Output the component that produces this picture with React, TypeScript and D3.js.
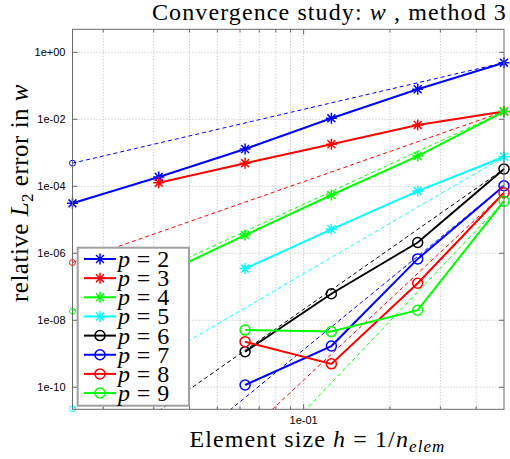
import React from 'react';
import * as d3 from 'd3';

// element sizes h = 1/n_elem
const elementSizes = [1 / 64, 1 / 32, 1 / 16, 1 / 8, 1 / 4, 1 / 2];
const orders = [2, 3, 4, 5, 6, 7, 8, 9];

// relative L2 error in w, one array per polynomial order (null = not computed)
const errP2 = [3.1e-5, 1.9e-4, 1.3e-3, 1.07e-2, 7.9e-2, 0.49];
const errP3 = [null, 1.28e-4, 4.9e-4, 1.8e-3, 6.8e-3, 1.7e-2];
const errP4 = [null, 2.1e-7, 3.5e-6, 5.5e-5, 8.0e-4, 1.7e-2];
const errP5 = [null, null, 3.5e-7, 5.2e-6, 7.2e-5, 7.6e-4];
const errP6 = [null, null, 1.15e-9, 6.2e-8, 2.1e-6, 3.3e-4];
const errP7 = [null, null, 1.17e-10, 1.7e-9, 6.8e-7, 1.04e-4];
const errP8 = [null, null, 2.3e-9, 5.0e-10, 1.27e-7, 6.4e-5];
const errP9 = [null, null, 5.1e-9, 4.6e-9, 2.0e-8, 3.6e-5];
const errors = [errP2, errP3, errP4, errP5, errP6, errP7, errP8, errP9];

// dashed reference lines: value at h = 1/64 (right end = last error value)
const refStart = [4.9e-4, 5.3e-7, 1.86e-8, 2.3e-11, 3.1e-13, 3.0e-15, 5.8e-17, 1.0e-18];

const colors = ['#0000ff', '#ff0000', '#00ff00', '#00ffff', '#000000', '#0000ff', '#ff0000', '#00ff00'];
const markerKinds = ['star', 'star', 'star', 'star', 'circle', 'circle', 'circle', 'circle'];

const yTicks = [1e-10, 1e-8, 1e-6, 1e-4, 1e-2, 1];
const xMajorTicks = [0.1];
const xMinorTicks = [0.02, 0.03, 0.04, 0.05, 0.06, 0.07, 0.08, 0.09, 0.2, 0.3, 0.4];

const width = 510, height = 459;
const margin = { top: 29.3, right: 6, bottom: 49.7, left: 72.5 };
const yDomain = [2.2e-11, 4.86];

const serif = '"Liberation Serif", "Times New Roman", serif';
const sans = '"Liberation Sans", Arial, sans-serif';

const fmtExp = (v: number) => {
  const e = Math.round(Math.log10(v));
  return `1e${e >= 0 ? '+' : '-'}${String(Math.abs(e)).padStart(2, '0')}`;
};

function Marker({ kind, x, y, color, r = 5, sw = 1.5 }: any) {
  if (kind === 'circle') {
    return <circle cx={x} cy={y} r={r} fill="none" stroke={color} strokeWidth={sw} />;
  }
  const d = r * 0.72;
  const p = `M${x - r},${y}L${x + r},${y}M${x},${y - r}L${x},${y + r}M${x - d},${y - d}L${x + d},${y + d}M${x - d},${y + d}L${x + d},${y - d}`;
  return <path d={p} stroke={color} strokeWidth={sw} fill="none" />;
}

export default function App() {
  const x = d3.scaleLog().domain([1 / 64, 1 / 2]).range([margin.left, width - margin.right]);
  const y = d3.scaleLog().domain(yDomain).range([height - margin.bottom, margin.top]);
  const x0 = x.range()[0], x1 = x.range()[1];
  const y0 = y.range()[0], y1 = y.range()[1];

  const line = d3.line<[number, number | null]>()
    .defined(d => d[1] != null)
    .x(d => x(d[0]))
    .y(d => y(d[1] as number));

  const gridColor = '#b8b8b8';
  const axisColor = '#6a6a6a';

  // legend geometry
  const lg = { x: 77.7, y: 247.7, w: 111.3, h: 158, row0: 259, step: 19.15 };

  return (
    <svg width={width} height={height} style={{ position: 'absolute', left: 0, top: 0, background: '#fff' }}>
      <defs>
        <clipPath id="plot-clip">
          <rect x={x0} y={y1} width={x1 - x0} height={y0 - y1} />
        </clipPath>
      </defs>

      {/* grid */}
      <g stroke={gridColor} strokeWidth={1} strokeDasharray="1,2">
        {[...xMinorTicks, ...xMajorTicks].map(t => (
          <line key={'gx' + t} x1={x(t)} x2={x(t)} y1={y1} y2={y0} />
        ))}
        {yTicks.map(t => (
          <line key={'gy' + t} x1={x0} x2={x1} y1={y(t)} y2={y(t)} />
        ))}
      </g>

      {/* reference slopes */}
      <g clipPath="url(#plot-clip)">
        {orders.map((p, i) => {
          const errs = errors[i];
          const pts: [number, number][] = [[elementSizes[0], refStart[i]], [elementSizes[5], errs[5] as number]];
          return (
            <path key={'ref' + p} d={line(pts) as string} fill="none" stroke={colors[i]}
              strokeWidth={1} strokeDasharray="4,3" />
          );
        })}
      </g>
      {orders.map((p, i) => refStart[i] >= yDomain[0] * 0.95 ? (
        <circle key={'refm' + p} cx={x(elementSizes[0])} cy={y(refStart[i])} r={3}
          fill="none" stroke={colors[i]} strokeWidth={1} />
      ) : null)}

      {/* convergence curves */}
      {orders.map((p, i) => {
        const pts = elementSizes.map((h, j) => [h, errors[i][j]] as [number, number | null]);
        return (
          <g key={'s' + p}>
            <path d={line(pts) as string} fill="none" stroke={colors[i]} strokeWidth={2} />
            {pts.filter(d => d[1] != null).map((d, j) => (
              <Marker key={j} kind={markerKinds[i]} x={x(d[0])} y={y(d[1] as number)} color={colors[i]}
                r={markerKinds[i] === 'star' ? 5.5 : 5} />
            ))}
          </g>
        );
      })}

      {/* axes frame and ticks */}
      <rect x={x0} y={y1} width={x1 - x0} height={y0 - y1} fill="none" stroke={axisColor} strokeWidth={1} />
      <g stroke={axisColor} strokeWidth={1}>
        {xMinorTicks.map(t => (
          <g key={'tx' + t}>
            <line x1={x(t)} x2={x(t)} y1={y0} y2={y0 - 3} />
            <line x1={x(t)} x2={x(t)} y1={y1} y2={y1 + 3} />
          </g>
        ))}
        {xMajorTicks.map(t => (
          <g key={'tX' + t}>
            <line x1={x(t)} x2={x(t)} y1={y0} y2={y0 - 5} />
            <line x1={x(t)} x2={x(t)} y1={y1} y2={y1 + 5} />
          </g>
        ))}
        {yTicks.map(t => (
          <g key={'ty' + t}>
            <line x1={x0} x2={x0 + 5} y1={y(t)} y2={y(t)} />
            <line x1={x1} x2={x1 - 5} y1={y(t)} y2={y(t)} />
          </g>
        ))}
      </g>
      <g fontFamily={sans} fontSize={11} fill="#000">
        {yTicks.map(t => (
          <text key={'ly' + t} x={x0 - 7} y={y(t) + 4} textAnchor="end">{fmtExp(t)}</text>
        ))}
        {xMajorTicks.map(t => (
          <text key={'lx' + t} x={x(t)} y={y0 + 15} textAnchor="middle">{fmtExp(t)}</text>
        ))}
      </g>

      {/* labels */}
      <text x={152} y={19.5} fontFamily={serif} fontSize={24} letterSpacing={1.1}>
        Convergence study: <tspan fontStyle="italic">w</tspan> , method 3
      </text>
      <text x={317.5} y={446.5} fontFamily={serif} fontSize={24} letterSpacing={1.1} textAnchor="middle">
        Element size <tspan fontStyle="italic">h</tspan> = 1/<tspan fontStyle="italic">n</tspan>
        <tspan fontStyle="italic" fontSize={17} dy={5}>elem</tspan>
      </text>
      <text transform="translate(28,193) rotate(-90)" fontFamily={serif} fontSize={25} letterSpacing={0.5}
        textAnchor="middle">
        relative <tspan fontStyle="italic">L</tspan><tspan fontSize={17} dy={5}>2</tspan>
        <tspan dy={-5}> error in </tspan><tspan fontStyle="italic">w</tspan>
      </text>

      {/* legend */}
      <rect x={lg.x} y={lg.y} width={lg.w} height={lg.h} fill="#fff" stroke="#a0a0a0" strokeWidth={2} />
      {orders.map((p, i) => {
        const cy = lg.row0 + i * lg.step;
        return (
          <g key={'lg' + p}>
            <line x1={84} x2={116} y1={cy} y2={cy} stroke={colors[i]} strokeWidth={2} />
            <Marker kind={markerKinds[i]} x={100} y={cy} color={colors[i]} r={markerKinds[i] === 'star' ? 5.5 : 5} />
            <text x={118} y={cy + 8} fontFamily={serif} fontSize={24} letterSpacing={0.4}>
              <tspan fontStyle="italic">p</tspan> = {p}
            </text>
          </g>
        );
      })}
    </svg>
  );
}
